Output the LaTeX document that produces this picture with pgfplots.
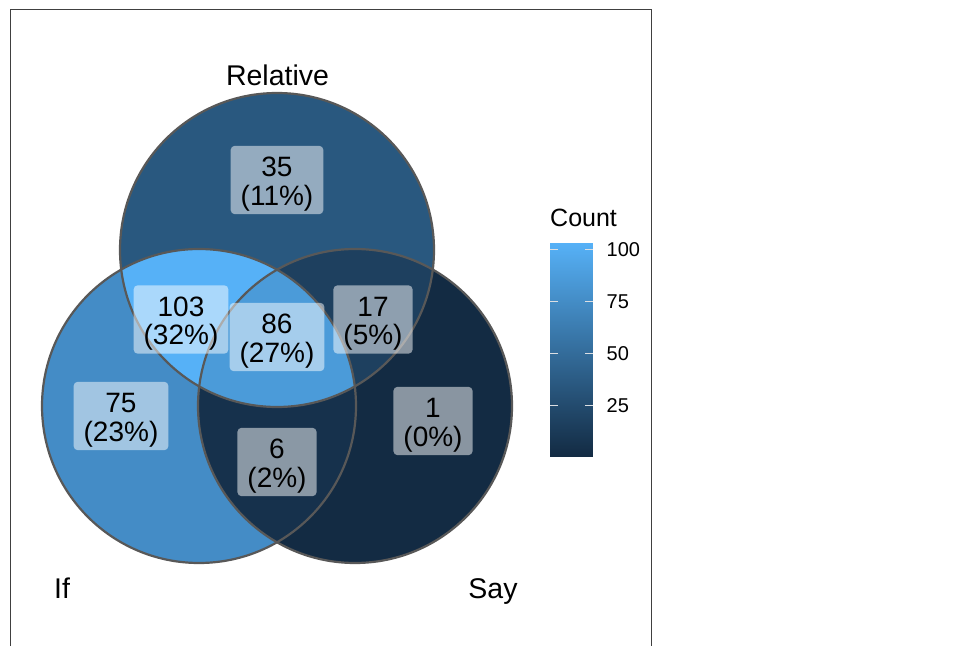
\documentclass[border=0pt]{standalone}
\usepackage{pgfplots}
\usepackage{pgfplotstable}
\pgfplotsset{compat=1.18}
\usepackage{fontspec}
\setmainfont{Liberation Sans}

\definecolor{lo}{RGB}{19,43,67}
\definecolor{hi}{RGB}{86,177,247}
% region colours, linear in count between 1 and 103
\colorlet{c35}{hi!33.3!lo}
\colorlet{c75}{hi!72.5!lo}
\colorlet{c1}{lo}
\colorlet{c103}{hi}
\colorlet{c17}{hi!15.7!lo}
\colorlet{c6}{hi!4.9!lo}
\colorlet{c86}{hi!83.3!lo}
\definecolor{ring}{RGB}{88,88,88}

% label positions (pixel grid, y up), count, percent
\pgfplotstableread{
x   y     n   p
277 466   35  11
181 326.5 103 32
277 309   86  27
373 326.5 17  5
121 230   75  23
277 184   6   2
433 225   1   0
}\regions

\begin{document}
\begin{tikzpicture}
\begin{axis}[
  name=main,
  scale only axis,
  width=977pt, height=646pt,
  xmin=0, xmax=977, ymin=0, ymax=646,
  hide axis,
  clip=false,
]
  % circles: Relative (277,396), If (199,240), Say (355,240)
  \fill[c35] (axis cs:277,396) circle[radius=157];
  \fill[c75] (axis cs:199,240) circle[radius=157];
  \fill[c1]  (axis cs:355,240) circle[radius=157];
  \begin{scope}
    \clip (axis cs:277,396) circle[radius=157];
    \fill[c103] (axis cs:199,240) circle[radius=157];
  \end{scope}
  \begin{scope}
    \clip (axis cs:277,396) circle[radius=157];
    \fill[c17] (axis cs:355,240) circle[radius=157];
  \end{scope}
  \begin{scope}
    \clip (axis cs:199,240) circle[radius=157];
    \fill[c6] (axis cs:355,240) circle[radius=157];
  \end{scope}
  \begin{scope}
    \clip (axis cs:277,396) circle[radius=157];
    \clip (axis cs:199,240) circle[radius=157];
    \fill[c86] (axis cs:355,240) circle[radius=157];
  \end{scope}
  \draw[ring, line width=2.2pt] (axis cs:277,396) circle[radius=157];
  \draw[ring, line width=2.2pt] (axis cs:199,240) circle[radius=157];
  \draw[ring, line width=2.2pt] (axis cs:355,240) circle[radius=157];

  % count labels
  \addplot[draw=none, mark=none,
    point meta=explicit symbolic,
    visualization depends on={\thisrow{p}\as\pct},
    nodes near coords={\rule{0pt}{31pt}\pgfplotspointmeta\\(\pgfmathprintnumber[fixed,precision=0,assume math mode=true]{\pct}\%)\rule[-9pt]{0pt}{9pt}},
    nodes near coords align=center,
    every node near coord/.style={
      anchor=center, align=center,
      font=\fontsize{28}{28.3}\selectfont,
      fill=white, fill opacity=0.5, text opacity=1,
      rounded corners=4pt, inner xsep=10pt, inner ysep=0pt}
  ] table[x=x, y=y, meta=n] {\regions};

  % set names
  \node[anchor=base, font=\fontsize{28.5}{30}\selectfont] at (axis cs:277.5,560) {Relative};
  \node[anchor=base, font=\fontsize{28.5}{30}\selectfont] at (axis cs:62,48) {If};
  \node[anchor=base, font=\fontsize{28.5}{30}\selectfont] at (axis cs:493,48) {Say};

  % legend title
  \node[anchor=base west, inner sep=0pt, font=\fontsize{25}{27}\selectfont] at (axis cs:550,419) {Count};

  % frame
  \draw[black!75, line width=1pt] (axis cs:10,0) -- (axis cs:10,636) -- (axis cs:651,636) -- (axis cs:651,0);
\end{axis}

\begin{axis}[
  at={(549.5pt,190pt)}, anchor=south west,
  scale only axis,
  width=43pt, height=213pt,
  xmin=0, xmax=1, ymin=1, ymax=103,
  colormap={gg}{rgb255=(19,43,67) rgb255=(86,177,247)},
  point meta min=1, point meta max=103,
  axis on top,
  axis line style={draw=none},
  xtick=\empty,
  ytick={25,50,75,100},
  ytick pos=both,
  yticklabel pos=right,
  tick align=inside,
  major tick length=8pt,
  tick style={white!85!lo, line width=1pt},
  yticklabel style={anchor=west, inner sep=0pt, xshift=14pt,
    font=\fontsize{20}{22}\selectfont},
  /pgf/number format/assume math mode=true,
]
  \addplot[surf, shader=interp, mesh/cols=2, point meta=y] coordinates {
    (0,1) (1,1) (0,103) (1,103)
  };
\end{axis}
\pgfresetboundingbox
\path (0,0) rectangle (977pt,646pt);
\end{tikzpicture}
\end{document}
